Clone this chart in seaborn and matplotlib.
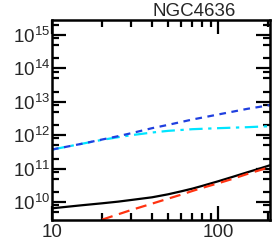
import numpy as np
import pandas as pd
import matplotlib
matplotlib.use("Agg")
import matplotlib.pyplot as plt
import matplotlib.ticker as mticker
import seaborn as sns

# radius and log10 values
r_black = [10, 15, 20, 25, 30, 40, 50, 60, 70, 80, 100, 120, 150, 180, 205]
lg_black = [9.81, 9.90, 9.96, 10.01, 10.06, 10.14, 10.23, 10.32, 10.40, 10.48,
            10.62, 10.74, 10.89, 11.01, 11.10]

r_red = [20, 25, 30, 40, 50, 60, 70, 80, 100, 120, 150, 180, 205]
lg_red = [9.47, 9.63, 9.76, 9.95, 10.10, 10.22, 10.33, 10.42, 10.56, 10.68,
          10.84, 10.96, 11.05]

r_blue = [10, 15, 20, 25, 30, 40, 50, 70, 100, 150, 205]
lg_blue = [11.57, 11.74, 11.87, 11.97, 12.06, 12.21, 12.31, 12.47, 12.62, 12.79, 12.90]

r_cyan = [10, 15, 20, 25, 30, 40, 50, 70, 100, 150, 205]
lg_cyan = [11.57, 11.74, 11.86, 11.94, 12.00, 12.08, 12.13, 12.18, 12.21, 12.24, 12.27]

x_ticks = [10, 100]
y_tick_exp = [10, 11, 12, 13, 14, 15]
title = "NGC4636"

sns.set_style("ticks")
plt.rcParams['font.family'] = ['Liberation Sans', 'DejaVu Sans']
plt.rcParams['mathtext.default'] = 'regular'

fig = plt.figure(figsize=(2.73, 2.48), dpi=100)
ax = fig.add_axes([52 / 273, 1 - 220 / 248, 218 / 273, 200 / 248])

lw = 1.6
sns.lineplot(x=r_black, y=10 ** np.array(lg_black), color='black', lw=lw, ax=ax)
sns.lineplot(x=r_red, y=10 ** np.array(lg_red), color='#ff3311', lw=lw, ax=ax,
             linestyle=(0, (5, 3)))
sns.lineplot(x=r_cyan, y=10 ** np.array(lg_cyan), color='#00e5ff', lw=lw, ax=ax,
             linestyle=(0, (6, 2.5, 1.5, 2.5)))
sns.lineplot(x=r_blue, y=10 ** np.array(lg_blue), color='#1f3fdf', lw=lw, ax=ax,
             linestyle=(0, (3, 2.5)))

ax.set_xscale('log')
ax.set_yscale('log')
ax.set_xlim(10, 205)
ax.set_ylim(10 ** 9.46, 10 ** 15.45)

ax.set_xticks(x_ticks, [str(v) for v in x_ticks])
ax.xaxis.set_minor_locator(mticker.LogLocator(base=10, subs=np.arange(2, 10)))
ax.xaxis.set_minor_formatter(mticker.NullFormatter())
ax.set_yticks([10.0 ** e for e in y_tick_exp],
              [f"$10^{{{e}}}$" for e in y_tick_exp])
ax.yaxis.set_minor_locator(mticker.LogLocator(base=10, subs=(2, 5, 8), numticks=20))
ax.yaxis.set_minor_formatter(mticker.NullFormatter())

ax.tick_params(which='both', direction='in', top=True, right=True,
               width=1.6, labelsize=13.5, color='black')
ax.tick_params(which='major', length=10)
ax.tick_params(which='minor', length=5)
ax.tick_params(axis='x', pad=3)
ax.tick_params(axis='y', pad=1.5)
for s in ax.spines.values():
    s.set_linewidth(1.8)
    s.set_color('black')

fig.text(194 / 273, 1 - 15.5 / 248, title, ha='center', va='baseline', fontsize=13.5)

fig.savefig("out.png", dpi=100)
